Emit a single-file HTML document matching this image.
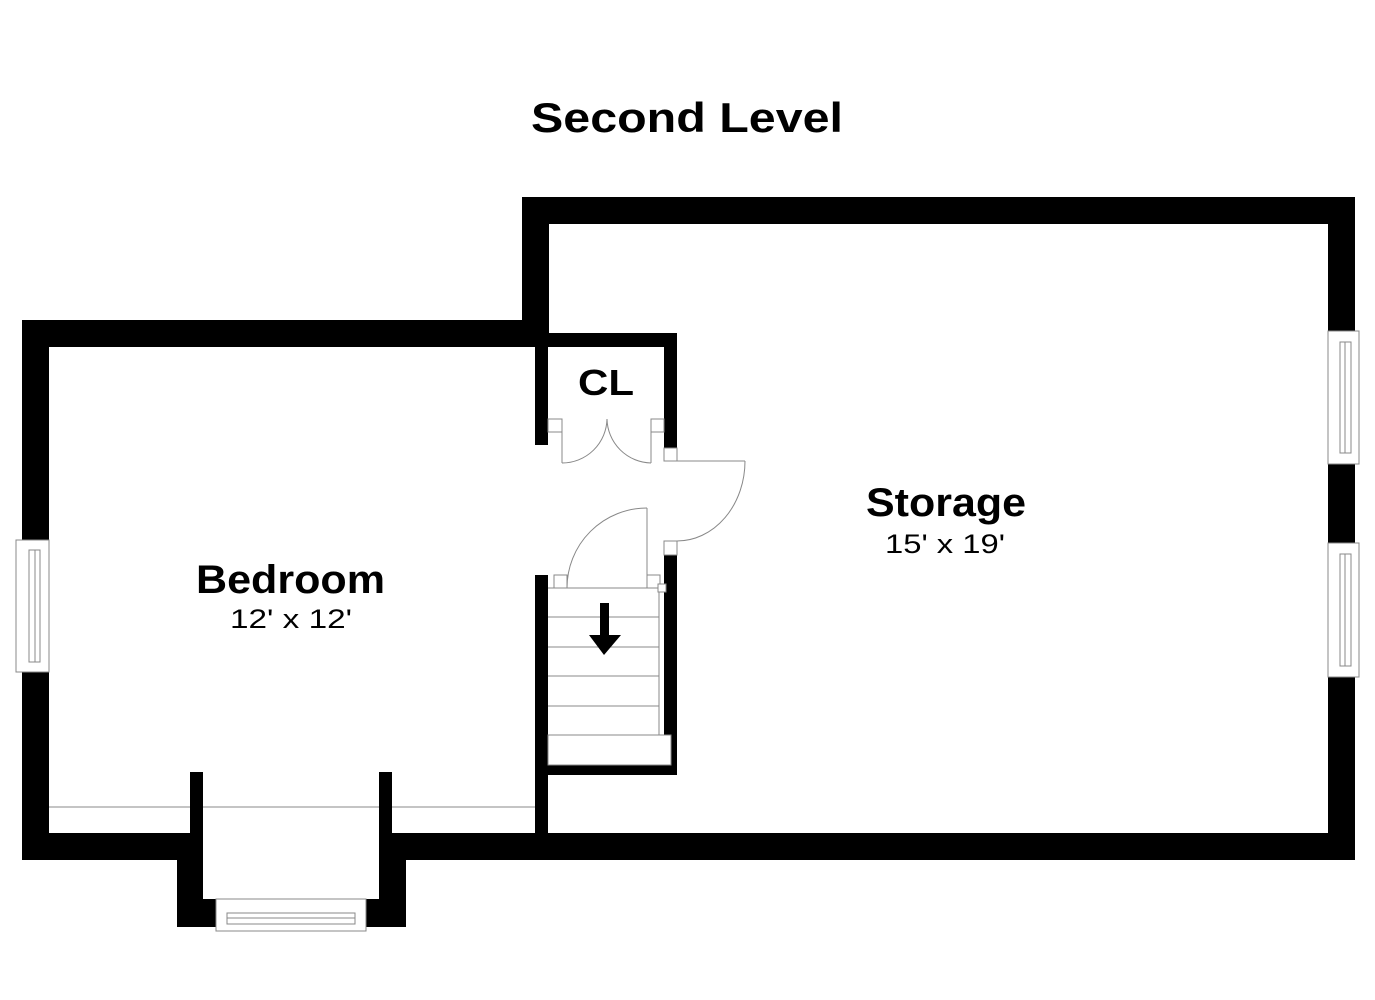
<!DOCTYPE html>
<html><head><meta charset="utf-8"><style>
html,body{margin:0;padding:0;background:#fff;}
svg{display:block;}
text{font-family:"Liberation Sans",Arial,sans-serif;fill:#000;}
</style></head><body>
<svg width="1375" height="1000" viewBox="0 0 1375 1000" xmlns="http://www.w3.org/2000/svg">
<rect width="1375" height="1000" fill="#fff"/>
<text x="531" y="132" font-size="42" font-weight="bold" textLength="312" lengthAdjust="spacingAndGlyphs">Second Level</text>

<g fill="#000">
<!-- storage walls -->
<rect x="522" y="197" width="833" height="27"/>
<rect x="522" y="197" width="27" height="150"/>
<rect x="1328" y="197" width="27" height="663"/>
<rect x="22" y="833" width="168" height="27"/>
<rect x="392" y="833" width="963" height="27"/>
<!-- bedroom walls -->
<rect x="22" y="320" width="527" height="27"/>
<rect x="22" y="320" width="27" height="540"/>
<!-- bay -->
<rect x="177" y="857" width="26" height="70"/>
<rect x="190" y="772" width="13" height="155"/>
<rect x="177" y="899" width="39" height="28"/>
<rect x="379" y="772" width="13" height="155"/>
<rect x="379" y="860" width="27" height="67"/>
<rect x="366" y="899" width="40" height="28"/>
<!-- closet -->
<rect x="535" y="333" width="142" height="14"/>
<rect x="535" y="333" width="13" height="112"/>
<rect x="664" y="333" width="13" height="115"/>
<!-- stair walls -->
<rect x="535" y="575" width="13" height="285"/>
<rect x="664" y="555" width="13" height="220"/>
<rect x="535" y="765" width="142" height="10"/>
</g>

<g fill="#fff" stroke="#888" stroke-width="1">
<!-- windows -->
<rect x="16" y="540" width="33" height="132"/>
<rect x="1328" y="331" width="31" height="133"/>
<rect x="1328" y="543" width="31" height="134"/>
<rect x="216" y="899" width="150" height="32"/>
<!-- jambs -->
<rect x="548" y="419" width="14" height="13"/>
<rect x="651" y="419" width="13" height="13"/>
<rect x="664" y="448" width="13" height="13"/>
<rect x="664" y="541" width="13" height="14"/>
<rect x="554" y="575" width="13" height="13"/>
<rect x="647" y="575" width="13" height="13"/>
<rect x="548" y="735" width="123" height="30"/>
</g>
<g fill="none" stroke="#888" stroke-width="1">
<rect x="29" y="550" width="11" height="112"/>
<line x1="35" y1="550" x2="35" y2="662"/>
<rect x="1340" y="342" width="11" height="111"/>
<line x1="1345" y1="342" x2="1345" y2="453"/>
<rect x="1340" y="554" width="11" height="112"/>
<line x1="1345" y1="554" x2="1345" y2="666"/>
<rect x="227" y="913" width="128" height="11"/>
<line x1="227" y1="918" x2="355" y2="918"/>
<line x1="49" y1="807" x2="190" y2="807"/>
<line x1="203" y1="807" x2="379" y2="807"/>
<line x1="392" y1="807" x2="535" y2="807"/>
<!-- closet doors -->
<line x1="562" y1="432" x2="562" y2="463"/>
<path d="M562 463 A45 45 0 0 0 607 419"/>
<line x1="651" y1="432" x2="651" y2="463"/>
<path d="M651 463 A45 45 0 0 1 607 419"/>
<!-- storage door -->
<line x1="677" y1="461" x2="745" y2="461"/>
<path d="M745 461 A68 80 0 0 1 677 541"/>
<!-- stair door -->
<line x1="647" y1="508" x2="647" y2="575"/>
<path d="M567 588 A80 80 0 0 1 647 508"/>
<!-- stairs -->
<line x1="548" y1="588" x2="660" y2="588"/>
<line x1="548" y1="617" x2="659" y2="617"/>
<line x1="548" y1="647" x2="659" y2="647"/>
<line x1="548" y1="676" x2="659" y2="676"/>
<line x1="548" y1="706" x2="659" y2="706"/>
<line x1="659" y1="592" x2="659" y2="735"/>
<rect x="658" y="584" width="8" height="8" fill="#fff"/>
</g>
<path d="M600 603 H609 V635 H621 L604 655 L589 635 H600 Z" fill="#000"/>

<text x="578" y="395" font-size="36" font-weight="bold" textLength="56" lengthAdjust="spacingAndGlyphs">CL</text>
<text x="866" y="516" font-size="40" font-weight="bold" textLength="160" lengthAdjust="spacingAndGlyphs">Storage</text>
<text x="885" y="553" font-size="27" textLength="120" lengthAdjust="spacingAndGlyphs">15' x 19'</text>
<text x="196" y="593" font-size="40" font-weight="bold" textLength="189" lengthAdjust="spacingAndGlyphs">Bedroom</text>
<text x="230" y="628" font-size="27" textLength="122" lengthAdjust="spacingAndGlyphs">12' x 12'</text>
</svg>
</body></html>
